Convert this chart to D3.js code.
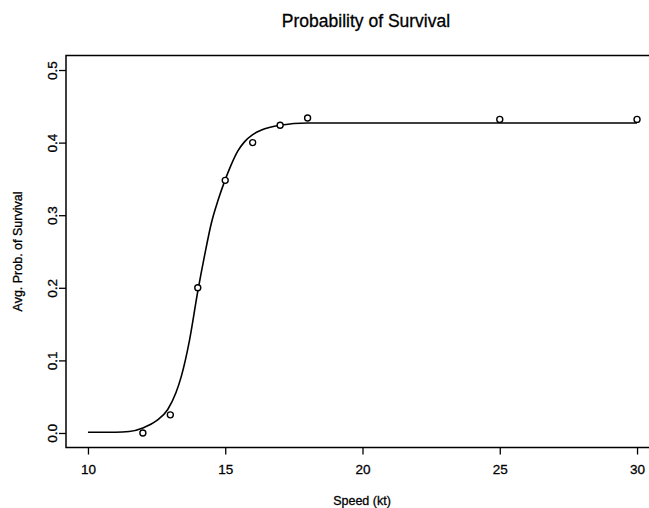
<!DOCTYPE html>
<html>
<head>
<meta charset="utf-8">
<script src="https://cdn.jsdelivr.net/npm/d3@7"></script>
<style>
  html, body { margin: 0; padding: 0; background: #fff; }
  text { font-family: 'Liberation Sans', Arial, Helvetica, sans-serif; fill: #000; stroke: #000; stroke-width: 0.3px; }
</style>
</head>
<body>
<div id="chart"></div>
<script>
// observed points
const speeds = [12, 13, 14, 15, 16, 17, 18, 25, 30]
const survival = [0.0, 0.025, 0.2, 0.348, 0.4, 0.424, 0.434, 0.432, 0.432]

// fitted curve
const fitSpeeds = [10, 11, 11.5, 12, 12.5, 12.9, 13.2, 13.4, 13.7, 14, 14.25, 14.5, 14.75, 15, 15.2, 15.45, 15.7, 16, 16.3, 17, 18, 20, 25, 30]
const fitSurvival = [0.001, 0.001, 0.002, 0.007, 0.017, 0.032, 0.055, 0.078, 0.128, 0.195, 0.245, 0.29, 0.322, 0.349, 0.368, 0.388, 0.401, 0.411, 0.417, 0.424, 0.427, 0.427, 0.427, 0.427]

const xTicks = [10, 15, 20, 25, 30]
const yTicks = [0.0, 0.1, 0.2, 0.3, 0.4, 0.5]

const width = 649
const height = 508

const svg = d3.create('svg')
  .attr('width', width)
  .attr('height', height)

// R style: data range padded by 4%
const xScale = d3.scaleLinear().domain([9.2, 30.8]).range([66, 659])
const yScale = d3.scaleLinear().domain([-0.02, 0.52]).range([447.5, 55.5])

// x axis
const xAxis = svg.append('g')
  .attr('transform', `translate(0, ${yScale(-0.02)})`)
  .call(d3.axisBottom(xScale).tickValues(xTicks).tickSize(7).tickPadding(10).tickFormat(d3.format('d')))
xAxis.select('.domain').remove()
xAxis.selectAll('line').attr('stroke', '#000').attr('stroke-width', 1.3)
xAxis.selectAll('text').attr('font-size', 13.5).attr('font-family', null)

// y axis, labels turned like R's las=0
const yAxis = svg.append('g')
  .attr('transform', `translate(${xScale(9.2)}, 0)`)
  .call(d3.axisLeft(yScale).tickValues(yTicks).tickSize(7).tickFormat(d3.format('.1f')))
yAxis.select('.domain').remove()
yAxis.selectAll('line').attr('stroke', '#000').attr('stroke-width', 1.3)
yAxis.selectAll('text')
  .attr('font-size', 13.5)
  .attr('font-family', null)
  .attr('x', null)
  .attr('text-anchor', 'middle')
  .attr('transform', 'translate(-14, 0) rotate(-90)')
  .attr('y', 0)
  .attr('dy', '0.35em')

// plot box
svg.append('rect')
  .attr('x', xScale(9.2))
  .attr('y', yScale(0.52))
  .attr('width', xScale(30.8) - xScale(9.2))
  .attr('height', yScale(-0.02) - yScale(0.52))
  .attr('fill', 'none')
  .attr('stroke', '#000')
  .attr('stroke-width', 1.5)

// fitted curve
const fit = fitSpeeds.map((s, i) => [s, fitSurvival[i]])
svg.append('path')
  .datum(fit)
  .attr('fill', 'none')
  .attr('stroke', '#000')
  .attr('stroke-width', 1.6)
  .attr('d', d3.line().x(d => xScale(d[0])).y(d => yScale(d[1])).curve(d3.curveMonotoneX))

// points
svg.append('g')
  .selectAll('circle')
  .data(speeds)
  .join('circle')
  .attr('cx', d => xScale(d))
  .attr('cy', (d, i) => yScale(survival[i]))
  .attr('r', 3)
  .attr('fill', '#fff')
  .attr('stroke', '#000')
  .attr('stroke-width', 1.4)

// titles
svg.append('text')
  .attr('x', 366)
  .attr('y', 27)
  .attr('text-anchor', 'middle')
  .attr('font-size', 17.5)
  .text('Probability of Survival')

svg.append('text')
  .attr('x', 362)
  .attr('y', 505)
  .attr('text-anchor', 'middle')
  .attr('font-size', 12.5)
  .text('Speed (kt)')

svg.append('text')
  .attr('transform', `translate(22, ${(yScale(-0.02) + yScale(0.52)) / 2}) rotate(-90)`)
  .attr('text-anchor', 'middle')
  .attr('font-size', 12.5)
  .text('Avg. Prob. of Survival')

document.getElementById('chart').appendChild(svg.node())
</script>
</body>
</html>
